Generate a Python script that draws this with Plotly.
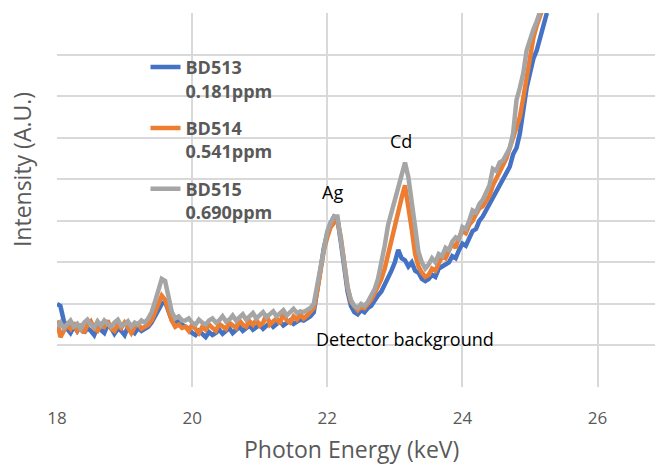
import plotly.graph_objects as go

# Energy grid (keV), 0.05 keV step from 18.00 to 25.25
energy = [round(18 + 0.05 * i, 2) for i in range(146)]

bd513 = [
    2.0, 1.95, 1.6, 1.4, 1.3, 1.45, 1.35, 1.5, 1.3, 1.42, 1.35, 1.25, 1.45, 1.38, 1.3, 1.5, 1.42, 1.28, 1.4, 1.35, 1.25, 1.45, 1.38, 1.3, 1.42, 1.35, 1.4,
    1.45, 1.55, 1.7, 1.85, 2.0, 2.05, 1.8, 1.6, 1.55, 1.6, 1.5,
    1.45, 1.4, 1.3, 1.25, 1.35, 1.28, 1.2, 1.32, 1.25, 1.3, 1.38, 1.28, 1.35, 1.42, 1.3, 1.38, 1.45, 1.35, 1.4, 1.48,
    1.38, 1.45, 1.5, 1.4, 1.48, 1.55, 1.45, 1.5, 1.58, 1.48, 1.55, 1.6, 1.52, 1.58, 1.62, 1.6, 1.65, 1.7,
    1.8, 2.3, 2.9, 3.35, 3.7, 3.95, 4.1, 4.05, 3.5, 2.9, 2.3, 1.95, 1.8, 1.75, 1.85, 1.8,
    1.9, 1.95, 2.1, 2.2, 2.3, 2.45, 2.6, 2.8, 3.0, 3.3,
    3.1, 3.05, 2.9, 3.0, 2.8, 2.75, 2.6, 2.55,
    2.6, 2.7, 2.65, 2.85, 2.9, 2.95, 3.0, 3.15, 3.1, 3.3, 3.45, 3.4, 3.6, 3.75, 3.8, 4.0, 4.1, 4.25,
    4.4, 4.55, 4.75, 4.85, 5.05, 5.15, 5.3, 5.6, 5.75, 6.1, 6.65, 7.2, 7.55, 7.9, 8.1, 8.4, 8.7, 9.0,
]

bd514 = [
    1.6, 1.2, 1.35, 1.5, 1.4, 1.55, 1.35, 1.45, 1.3, 1.5, 1.58, 1.4, 1.35, 1.5, 1.45, 1.6, 1.4, 1.35, 1.5, 1.42, 1.55, 1.4, 1.3, 1.45, 1.52, 1.4, 1.45,
    1.5, 1.6, 1.8, 2.0, 2.2, 2.1, 1.85, 1.6, 1.45, 1.5, 1.42,
    1.45, 1.35, 1.5, 1.4, 1.3, 1.45, 1.38, 1.5, 1.42, 1.35, 1.52, 1.45, 1.4, 1.55, 1.48, 1.42, 1.6, 1.5, 1.45, 1.58,
    1.5, 1.62, 1.48, 1.55, 1.75, 1.5, 1.58, 1.65, 1.52, 1.8, 1.6, 1.55, 1.7, 1.62, 1.75, 1.65, 1.72, 1.8,
    1.9, 2.3, 2.85, 3.3, 3.6, 3.85, 3.95, 4.0, 3.6, 2.95, 2.4, 2.05, 1.95, 1.85, 1.95, 1.9,
    2.0, 2.1, 2.25, 2.4, 2.6, 2.85, 3.2, 3.6, 3.9, 4.2,
    4.55, 4.85, 4.4, 3.8, 3.2, 2.9, 2.75, 2.65,
    2.7, 2.85, 2.8, 3.0, 3.15, 3.1, 3.3, 3.45, 3.35, 3.6, 3.75, 3.7, 3.9, 4.0, 4.15, 4.3, 4.35, 4.5,
    4.6, 4.85, 5.0, 5.15, 5.3, 5.5, 5.75, 6.0, 6.25, 6.5, 6.95, 7.45, 7.95, 8.4, 8.7, 8.95, 9.15, 9.4,
]

bd515 = [
    1.45, 1.55, 1.42, 1.5, 1.6, 1.45, 1.52, 1.4, 1.55, 1.62, 1.5, 1.43, 1.58, 1.48, 1.6, 1.52, 1.45, 1.55, 1.62, 1.47, 1.5, 1.58, 1.45, 1.55, 1.5, 1.6, 1.55,
    1.65, 1.8, 2.05, 2.3, 2.6, 2.55, 2.1, 1.8, 1.65, 1.7, 1.6,
    1.6, 1.65, 1.55, 1.5, 1.62, 1.55, 1.5, 1.6, 1.65, 1.55, 1.6, 1.7, 1.58, 1.62, 1.72, 1.6, 1.68, 1.75, 1.62, 1.7,
    1.78, 1.65, 1.72, 1.8, 1.68, 1.75, 1.82, 1.7, 1.78, 1.85, 1.72, 1.8, 1.88, 1.78, 1.82, 1.8, 1.85, 1.9,
    2.0, 2.45, 3.0, 3.45, 3.75, 3.95, 4.1, 4.1, 3.6, 3.0, 2.4, 2.1, 1.95, 1.9, 2.0, 1.95,
    2.05, 2.2, 2.35, 2.6, 2.95, 3.4, 3.9, 4.2, 4.55, 4.9,
    5.2, 5.4, 5.05, 4.45, 3.8, 3.25, 3.0, 2.85,
    2.95, 3.1, 3.0, 3.2, 3.15, 3.35, 3.3, 3.5, 3.6, 3.55, 3.85, 3.8, 4.0, 4.25, 4.2, 4.4, 4.5, 4.7,
    4.85, 5.25, 5.2, 5.4, 5.45, 5.6, 5.75, 6.1, 6.9, 7.2, 7.55, 8.1, 8.4, 8.6, 8.8, 9.05, 9.3, 9.5,
]

series_names = ["BD513<br>0.181ppm", "BD514<br>0.541ppm", "BD515<br>0.690ppm"]
series_values = [bd513, bd514, bd515]
colors = ["#4472C4", "#ED7D31", "#A5A5A5"]

peak_labels = ["Ag", "Cd", "Detector background"]
peak_x = [22.08, 23.09, 23.15]
peak_y = [4.69, 5.91, 1.15]

fig = go.Figure()
for i, (name, vals, col) in enumerate(zip(series_names, series_values, colors)):
    fig.add_trace(go.Scatter(
        x=energy, y=vals, mode="lines", name=name,
        line=dict(color=col, width=4.5), legendgroup=str(i),
    ))

for t, x, y in zip(peak_labels, peak_x, peak_y):
    fig.add_annotation(x=x, y=y, text=t, showarrow=False,
                       font=dict(family="Open Sans", size=18, color="#000000"))

# Axis titles
fig.add_annotation(xref="paper", yref="paper", x=-0.0585, y=0.58,
                   xanchor="center", yanchor="middle",
                   text="Intensity (A.U.)", textangle=-90, showarrow=False,
                   font=dict(family="Open Sans", size=23, color="#595959"))
fig.add_annotation(xref="paper", yref="paper", x=0.492, y=-0.166,
                   xanchor="center", yanchor="middle",
                   text="Photon Energy (keV)", showarrow=False,
                   font=dict(family="Open Sans", size=23, color="#595959"))

fig.update_layout(
    width=655, height=466,
    margin=dict(l=57, r=0, t=13, b=79, pad=0),
    paper_bgcolor="white", plot_bgcolor="white",
    font=dict(family="Open Sans", color="#595959"),
    showlegend=True,
    legend=dict(
        x=0.148, y=0.904, xanchor="left", yanchor="top",
        bgcolor="rgba(0,0,0,0)", valign="top",
        font=dict(family="Open Sans", size=18, color="#595959", weight="bold"),
        tracegroupgap=11,
    ),
    xaxis=dict(
        range=[18, 26.85], tick0=18, dtick=2,
        showgrid=True, gridcolor="#D9D9D9", gridwidth=1.5,
        zeroline=False, showline=False, ticks="", automargin=False,
        tickfont=dict(size=17, color="#595959"),
        ticklabelstandoff=19,
    ),
    yaxis=dict(
        range=[0, 9], tick0=0, dtick=1, automargin=False,
        showgrid=True, gridcolor="#D9D9D9", gridwidth=1.5,
        zeroline=False, showline=False, showticklabels=False, ticks="",
    ),
)

fig.write_html("out.html", config={"displayModeBar": False},
               post_script="document.body.style.margin='0';document.body.style.overflow='hidden';")
